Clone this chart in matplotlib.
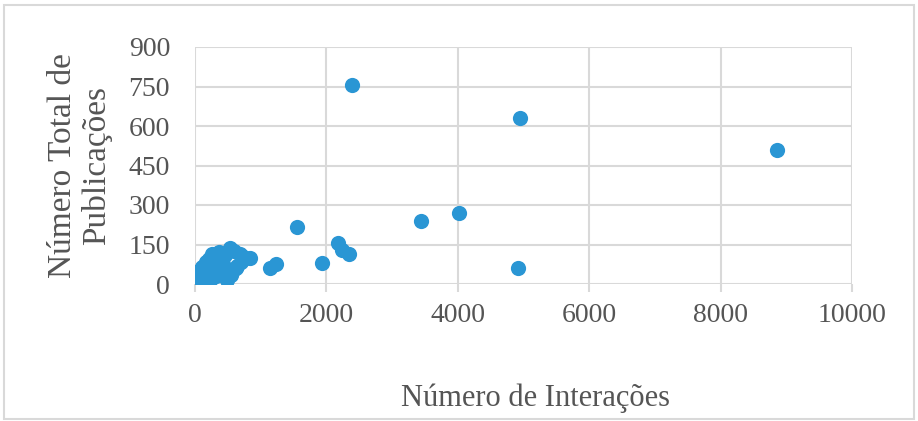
import matplotlib
matplotlib.use("Agg")
import matplotlib.pyplot as plt
from matplotlib.patches import Rectangle

# Data (Número de Interações, Número Total de Publicações)
interacoes = [2390, 4950, 8860, 1553, 2177, 2240, 2345, 1933, 3440, 4018, 4916, 1140, 1233,
              20, 40, 60, 80, 100, 120, 150, 180, 200, 230, 260, 280, 300, 330, 360, 400,
              450, 500, 530, 560, 600, 640, 680, 720, 780, 840, 250, 320, 380, 420, 480,
              100, 160, 220, 60, 30, 550, 620, 700, 10, 50, 140, 10]
publicacoes = [755, 630, 509, 218, 155, 130, 115, 80, 240, 270, 62, 62, 76,
               5, 20, 35, 10, 45, 25, 55, 15, 70, 40, 115, 85, 100, 60, 120, 90,
               110, 30, 138, 45, 125, 70, 115, 105, 98, 100, 20, 30, 50, 75, 15,
               65, 85, 95, 50, 10, 35, 60, 85, 25, 3, 8, 45]

x_ticks = [0, 2000, 4000, 6000, 8000, 10000]
y_ticks = [0, 150, 300, 450, 600, 750, 900]

plt.rcParams['font.family'] = ['Liberation Serif', 'DejaVu Serif']

fig = plt.figure(figsize=(9.18, 4.21), dpi=100)
ax = fig.add_axes([195/918, 1-284/421, (852-195)/918, (284-47)/421])

ax.scatter(interacoes, publicacoes, s=120, color='#2A96D4', zorder=3, linewidths=0)

ax.set_xlim(0, 10000)
ax.set_ylim(0, 900)
ax.set_xticks(x_ticks)
ax.set_yticks(y_ticks)
ax.grid(True, color='#d9d9d9', linewidth=1.5, zorder=0)
for s in ax.spines.values():
    s.set_visible(False)
ax.tick_params(axis='x', length=6, color='#d9d9d9', width=1.5, labelsize=20, pad=8)
ax.tick_params(axis='y', length=0, labelsize=20, pad=18)
for lbl in ax.get_xticklabels() + ax.get_yticklabels():
    lbl.set_color('#555555')

ax.set_xlabel('Número de Interações', fontsize=22, color='#555555')
ax.xaxis.set_label_coords(0.518, -0.42)
ax.xaxis.label.set_va('top')
ax.set_ylabel('Número Total de\nPublicações', fontsize=24, color='#555555', labelpad=12, linespacing=1.1)

fig.patches.append(Rectangle((0.004, 0.004), 0.992, 0.985, transform=fig.transFigure,
                             fill=False, edgecolor='#d9d9d9', linewidth=1.5))

fig.savefig('out.png', dpi=100, facecolor='white')
